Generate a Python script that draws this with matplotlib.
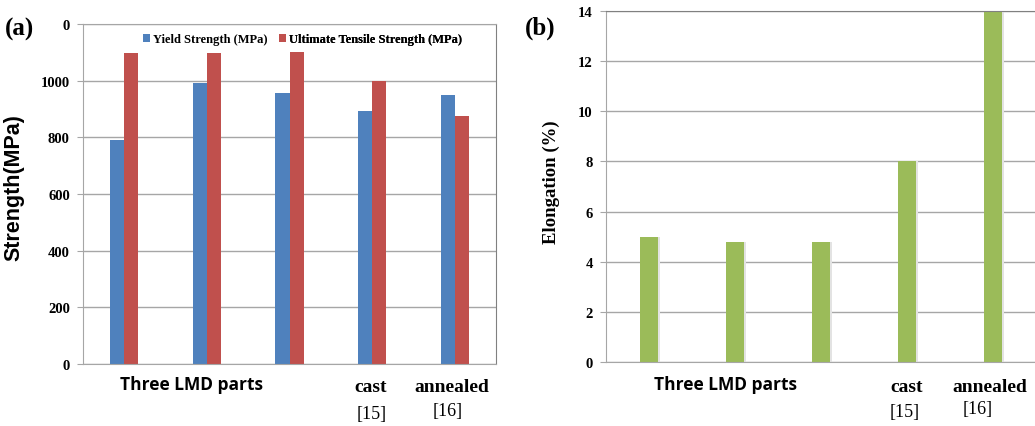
import numpy as np
import matplotlib.pyplot as plt

# tensile data, three LMD parts + cast [15] + annealed [16]
groups = ["LMD 1", "LMD 2", "LMD 3", "cast", "annealed"]
yield_strength = [790, 992, 958, 893, 948]
uts = [1097, 1097, 1100, 1000, 876]
elongation = [5.0, 4.8, 4.8, 8.0, 14.0]

a_ticks = [0, 200, 400, 600, 800, 1000, 1200]
a_ticklabels = ["0", "200", "400", "600", "800", "1000", "0"]
b_ticks = [0, 2, 4, 6, 8, 10, 12, 14]

blue = "#4F81BD"
red = "#C0504D"
green = "#9BBB59"
grid_c = "#A6A6A6"

W, H = 1035, 427
fig = plt.figure(figsize=(W / 100, H / 100), dpi=100)


def px_axes(x0, y0, x1, y1):
    return fig.add_axes([x0 / W, 1 - y1 / H, (x1 - x0) / W, (y1 - y0) / H])


def style(ax, ticks, labels):
    ax.set_yticks(ticks)
    ax.set_yticklabels(labels, fontfamily="Liberation Serif",
                       fontweight="bold", fontsize=10.5)
    ax.set_xticks([])
    ax.tick_params(axis="y", length=4.5, color=grid_c, pad=5)
    ax.yaxis.grid(True, color=grid_c, lw=1)
    ax.set_axisbelow(True)
    for s in ["left", "bottom"]:
        ax.spines[s].set_color(grid_c)
    ax.spines["top"].set_color("#808080")
    ax.spines["right"].set_color("#808080")


def fig_text(px, py, s, **kw):
    fig.text(px / W, 1 - py / H, s, ha="center", va="center", **kw)


x = np.arange(len(groups))

# (a) strength
ax1 = px_axes(83, 25, 496, 365)
bw = 0.17
b1 = ax1.bar(x - bw / 2, yield_strength, bw, color=blue, label="Yield Strength (MPa)")
b2 = ax1.bar(x + bw / 2, uts, bw, color=red, label="Ultimate Tensile Strength (MPa)")
ax1.set_xlim(-0.5, 4.5)
ax1.set_ylim(0, 1200)
style(ax1, a_ticks, a_ticklabels)
ax1.spines["top"].set_color(grid_c)
ax1.set_ylabel("Strength(MPa)", fontfamily="Liberation Sans",
               fontweight="bold", fontsize=15.5)
ax1.yaxis.set_label_coords((24 - 83) / 413, (365 - 188) / 340)

leg_font = {"family": "Liberation Serif", "weight": "bold", "size": 9}
for handle, x_px in [(b1, 143), (b2, 279)]:
    leg = ax1.legend(handles=[handle], loc="center left",
                     bbox_to_anchor=((x_px - 83) / 413, (365 - 40) / 340),
                     frameon=False, handlelength=0.55, handleheight=0.6,
                     handletextpad=0.25, borderaxespad=0, borderpad=0,
                     prop=leg_font)
    ax1.add_artist(leg)

# (b) elongation
ax2 = px_axes(606, 12, 1036, 363)
ax2.bar(x + 0.03, elongation, 0.2, color="#E3E3E3")
ax2.bar(x, elongation, 0.2, color=green)
ax2.set_xlim(-0.5, 4.5)
ax2.set_ylim(0, 14)
style(ax2, b_ticks, [str(t) for t in b_ticks])
ax2.set_ylabel("Elongation (%)", fontfamily="Liberation Serif",
               fontweight="bold", fontsize=13.5)
ax2.yaxis.set_label_coords((560 - 606) / 430, (363 - 182) / 351)

# category labels under each panel
sans_b = dict(fontfamily="Open Sans", fontweight="bold", fontsize=12.5)
serif_b = dict(fontfamily="Liberation Serif", fontweight="bold", fontsize=14)
serif = dict(fontfamily="Liberation Serif", fontsize=13)

fig_text(191, 385, "Three LMD parts", **sans_b)
fig_text(371, 388, "cast", **serif_b)
fig_text(452, 388, "annealed", **serif_b)
fig_text(372, 415, "[15]", **serif)
fig_text(448, 412, "[16]", **serif)

fig_text(726, 385, "Three LMD parts", **sans_b)
fig_text(907, 388, "cast", **serif_b)
fig_text(990, 388, "annealed", **serif_b)
fig_text(905, 413, "[15]", **serif)
fig_text(978, 410, "[16]", **serif)

fig.text(5 / W, 1 - 29 / H, "(a)", ha="left", va="center",
         fontfamily="Liberation Serif", fontweight="bold", fontsize=18)
fig.text(525 / W, 1 - 28 / H, "(b)", ha="left", va="center",
         fontfamily="Liberation Serif", fontweight="bold", fontsize=18)

fig.savefig("out.png", dpi=100)
